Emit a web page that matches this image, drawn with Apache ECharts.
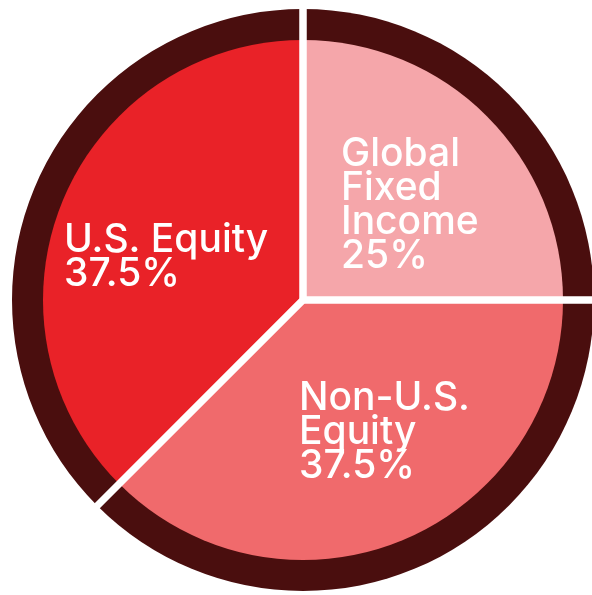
<!DOCTYPE html>
<html><head><meta charset="utf-8">
<script src="https://cdn.jsdelivr.net/npm/echarts@6/dist/echarts.min.js"></script>
<style>html,body{margin:0;padding:0;background:#fff}#c{width:592px;height:595px}</style>
</head><body><div id="c"></div>
<script>
var categories = ['Global\nFixed\nIncome', 'Non-U.S.\nEquity', 'U.S. Equity'];
var values = [25, 37.5, 37.5];
var sliceColors = ['#f5a6aa', '#f06a6c', '#e92228'];
var ringColor = '#4a0e0e';

var chart = echarts.init(document.getElementById('c'), null, {renderer: 'canvas'});
var labelPos = [
  {x: 341, y: 137},
  {x: 299, y: 381},
  {x: 64, y: 223}
];
var data = categories.map(function (c, i) { return {name: c, value: values[i], itemStyle: {color: sliceColors[i]}}; });
var ringData = categories.map(function (c, i) { return {name: c, value: values[i]}; });
var common = {type: 'pie', center: [303, 300], startAngle: 90, clockwise: true, animation: false, silent: true, emphasis: {disabled: true}, labelLine: {show: false}};
chart.setOption({
  series: [
    Object.assign({}, common, {
      radius: [0, 291], data: ringData,
      itemStyle: {color: ringColor, borderWidth: 0},
      label: {show: false}, z: 1
    }),
    Object.assign({}, common, {
      radius: [0, 260], data: data,
      itemStyle: {borderWidth: 0},
      label: {
        show: true, position: 'inside', color: '#fff',
        fontFamily: 'Inter', fontSize: 39, fontWeight: 500, lineHeight: 34,
        align: 'left', verticalAlign: 'top',
        formatter: function (p) { return p.name + '\n' + p.percent + '%'; }
      },
      labelLayout: function (p) { var q = labelPos[p.dataIndex]; return {x: q.x, y: q.y, align: 'left', verticalAlign: 'top'}; },
      z: 2
    }),
    Object.assign({}, common, {
      radius: [0, 312], data: ringData,
      itemStyle: {color: 'rgba(0,0,0,0)', borderColor: '#fff', borderWidth: 7},
      label: {show: false}, z: 3
    })
  ]
});
</script></body></html>
